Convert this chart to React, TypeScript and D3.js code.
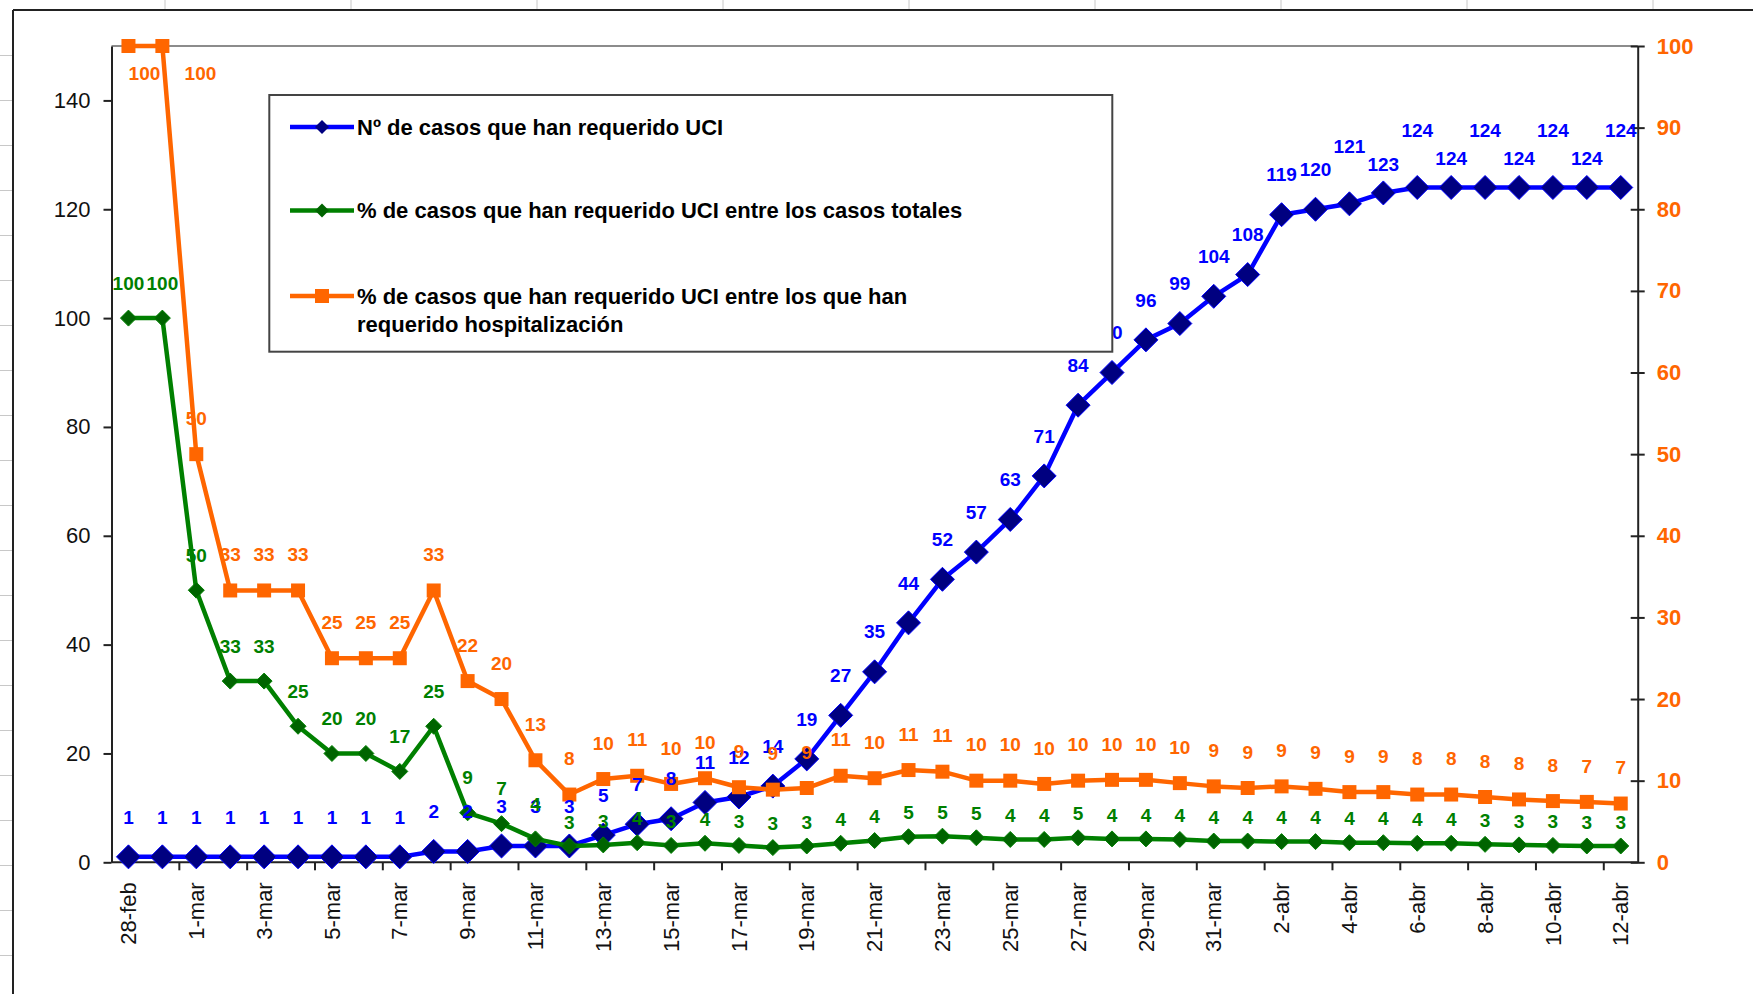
import React, { useRef, useEffect } from "react";
import * as d3 from "d3";

// fechas (categorías del eje X)
const fechas = [
  "28-feb", "29-feb",
  "1-mar", "2-mar", "3-mar", "4-mar", "5-mar", "6-mar", "7-mar", "8-mar", "9-mar", "10-mar",
  "11-mar", "12-mar", "13-mar", "14-mar", "15-mar", "16-mar", "17-mar", "18-mar", "19-mar", "20-mar",
  "21-mar", "22-mar", "23-mar", "24-mar", "25-mar", "26-mar", "27-mar", "28-mar", "29-mar", "30-mar", "31-mar",
  "1-abr", "2-abr", "3-abr", "4-abr", "5-abr", "6-abr", "7-abr", "8-abr", "9-abr", "10-abr", "11-abr", "12-abr",
];

// Nº de casos que han requerido UCI (eje izquierdo)
const casosUci = [
  1, 1, 1, 1, 1, 1, 1, 1, 1, 2, 2, 3, 3, 3, 5, 7, 8, 11, 12, 14, 19, 27, 35, 44, 52, 57, 63, 71, 84, 90,
  96, 99, 104, 108, 119, 120, 121, 123, 124, 124, 124, 124, 124, 124, 124,
];

// % UCI entre casos totales (eje izquierdo)
const pctTotales = [
  100, 100, 50, 33.3, 33.3, 25, 20, 20, 16.7, 25, 9.1, 7.1, 4.3, 3.0, 3.2, 3.6, 3.1, 3.5, 3.1, 2.7, 3.0,
  3.5, 4.0, 4.7, 4.8, 4.5, 4.2, 4.2, 4.5, 4.3, 4.3, 4.2, 3.9, 3.9, 3.8, 3.8, 3.6, 3.6, 3.5, 3.5, 3.3,
  3.2, 3.1, 3.0, 3.0,
];

// % UCI entre hospitalizados (eje derecho)
const pctHospital = [
  100, 100, 50, 33.3, 33.3, 33.3, 25, 25, 25, 33.3, 22.2, 20, 12.5, 8.3, 10.2, 10.6, 9.6, 10.3, 9.2, 8.9,
  9.1, 10.6, 10.3, 11.3, 11.1, 10.0, 10.0, 9.6, 10.0, 10.1, 10.1, 9.7, 9.3, 9.1, 9.3, 9.0, 8.6, 8.6, 8.3,
  8.3, 8.0, 7.7, 7.5, 7.4, 7.2,
];

const ticksIzq = [0, 20, 40, 60, 80, 100, 120, 140];
const ticksDer = [0, 10, 20, 30, 40, 50, 60, 70, 80, 90, 100];

const nombresSeries = [
  ["Nº de casos que han requerido UCI"],
  ["% de casos que han requerido UCI entre los casos totales"],
  ["% de casos que han requerido UCI entre los que han", "requerido hospitalización"],
];

const FONT = "'Liberation Sans', Arial, sans-serif";
const AZUL = "#0000ff";
const VERDE = "#008000";
const NARANJA = "#ff6600";

const App = () => {
  const svgRef = useRef(null);

  useEffect(() => {
    const W = 1753;
    const H = 994;
    const left = 111.5;
    const right = 1637.7;
    const top = 46;
    const bottom = 862.3;

    const svg = d3.select(svgRef.current);
    svg.selectAll("*").remove();

    const x = d3.scalePoint().domain(fechas).range([left, right]).padding(0.5);
    const xBand = d3.scaleBand().domain(fechas).range([left, right]);
    const yLeft = d3.scaleLinear().domain([0, 150]).range([bottom, top]);
    const yRight = d3.scaleLinear().domain([0, 100]).range([bottom, top]);

    svg.append("rect").attr("width", W).attr("height", H).attr("fill", "white");

    // marcas de la hoja de cálculo fuera del gráfico
    for (let yy = 55.5; yy < H; yy += 45) {
      svg.append("line").attr("x1", 0).attr("x2", 12).attr("y1", yy).attr("y2", yy)
        .attr("stroke", "#c8c8c8").attr("stroke-width", 1);
    }
    for (let xx = 165; xx < W; xx += 186) {
      svg.append("line").attr("x1", xx).attr("x2", xx).attr("y1", 0).attr("y2", 9)
        .attr("stroke", "#c8c8c8").attr("stroke-width", 1);
    }

    // marco exterior
    svg.append("line").attr("x1", 13).attr("x2", W).attr("y1", 10).attr("y2", 10)
      .attr("stroke", "#222").attr("stroke-width", 2);
    svg.append("line").attr("x1", 13).attr("x2", 13).attr("y1", 10).attr("y2", H)
      .attr("stroke", "#222").attr("stroke-width", 2);

    // borde superior del área de trazado
    svg.append("line").attr("x1", left).attr("x2", right).attr("y1", top).attr("y2", top)
      .attr("stroke", "#8c8c8c").attr("stroke-width", 2);

    // eje izquierdo
    const gL = svg.append("g").attr("transform", `translate(${left},0)`)
      .call(d3.axisLeft(yLeft).tickValues(ticksIzq).tickSizeInner(8).tickSizeOuter(0).tickPadding(13));
    gL.select(".domain").attr("stroke", "#222").attr("stroke-width", 2);
    gL.selectAll(".tick line").attr("stroke", "#222").attr("stroke-width", 2);
    gL.selectAll(".tick text").attr("font-family", FONT).attr("font-size", 22).attr("fill", "#111");

    // eje derecho
    const gR = svg.append("g").attr("transform", `translate(${right},0)`)
      .call(d3.axisRight(yRight).tickValues(ticksDer).tickSizeInner(7).tickSizeOuter(0).tickPadding(12));
    gR.select(".domain").attr("stroke", "#222").attr("stroke-width", 2);
    gR.selectAll(".tick line").attr("x1", -7).attr("stroke", "#222").attr("stroke-width", 2);
    gR.selectAll(".tick text").attr("font-family", FONT).attr("font-size", 22)
      .attr("font-weight", "bold").attr("fill", NARANJA);

    // eje X
    svg.append("line").attr("x1", left).attr("x2", right).attr("y1", bottom).attr("y2", bottom)
      .attr("stroke", "#222").attr("stroke-width", 2);
    fechas.forEach((f, i) => {
      if (i > 0 && i % 2 === 0) {
        const bx = xBand(f);
        svg.append("line").attr("x1", bx).attr("x2", bx).attr("y1", bottom).attr("y2", bottom + 8)
          .attr("stroke", "#222").attr("stroke-width", 2);
      }
      if (i % 2 === 0) {
        svg.append("text")
          .attr("transform", `translate(${x(f)},${bottom + 20}) rotate(-90)`)
          .attr("text-anchor", "end")
          .attr("dy", "0.35em")
          .attr("font-family", FONT)
          .attr("font-size", 22)
          .attr("fill", "#111")
          .text(f);
      }
    });

    const diamond = (r) => `M0,${-r}L${r},0L0,${r}L${-r},0Z`;

    const series = [
      { values: casosUci, y: yLeft, color: AZUL, mark: "#000080", shape: diamond(12), width: 4.5 },
      { values: pctTotales, y: yLeft, color: VERDE, mark: "#006400", shape: diamond(8), width: 4.5 },
      { values: pctHospital, y: yRight, color: NARANJA, mark: NARANJA, shape: "M-7,-7H7V7H-7Z", width: 4.5 },
    ];

    series.forEach((s) => {
      const line = d3.line().x((d, i) => x(fechas[i])).y((d) => s.y(d));
      svg.append("path").datum(s.values).attr("d", line).attr("fill", "none")
        .attr("stroke", s.color).attr("stroke-width", s.width).attr("stroke-linejoin", "round");
      s.values.forEach((v, i) => {
        svg.append("path").attr("d", s.shape)
          .attr("transform", `translate(${x(fechas[i])},${s.y(v)})`)
          .attr("fill", s.mark)
          .attr("stroke", s.color === NARANJA ? "none" : s.color)
          .attr("stroke-width", 1);
      });
    });

    // etiquetas de datos
    const etiqueta = (tx, ty, txt, color) =>
      svg.append("text").attr("x", tx).attr("y", ty).attr("dy", "0.35em")
        .attr("text-anchor", "middle").attr("font-family", FONT).attr("font-size", 19)
        .attr("font-weight", "bold").attr("fill", color).text(txt);

    // en la meseta final las etiquetas azules se alternan arriba / abajo
    casosUci.forEach((v, i) => {
      const off = i >= 36 ? (i % 2 === 0 ? 57 : 29) : 40;
      etiqueta(x(fechas[i]), yLeft(v) - off, Math.round(v), AZUL);
    });
    pctTotales.forEach((v, i) => etiqueta(x(fechas[i]), yLeft(v) - (i <= 12 ? 35 : 24), Math.round(v), VERDE));
    let prevClamp = -Infinity;
    pctHospital.forEach((v, i) => {
      const px = x(fechas[i]);
      const py = yRight(v);
      if (py - 36 < top + 10) {
        const cx = Math.max(px + 16, prevClamp + 56);
        prevClamp = cx;
        etiqueta(cx, py + 27, Math.round(v), NARANJA);
      } else {
        etiqueta(px, py - 36, Math.round(v), NARANJA);
      }
    });

    // leyenda
    const lg = svg.append("g");
    lg.append("rect").attr("x", 269.3).attr("y", 95).attr("width", 843).attr("height", 256.7)
      .attr("fill", "white").attr("stroke", "#444").attr("stroke-width", 2);
    const filas = [127, 210.5, 296];
    const legMarks = [
      { color: AZUL, mark: "#000080", shape: diamond(7) },
      { color: VERDE, mark: "#006400", shape: diamond(7) },
      { color: NARANJA, mark: NARANJA, shape: "M-7,-7H7V7H-7Z" },
    ];
    nombresSeries.forEach((lines, k) => {
      const yy = filas[k];
      lg.append("line").attr("x1", 290).attr("x2", 354).attr("y1", yy).attr("y2", yy)
        .attr("stroke", legMarks[k].color).attr("stroke-width", 4.5);
      lg.append("path").attr("d", legMarks[k].shape).attr("transform", `translate(322,${yy})`)
        .attr("fill", legMarks[k].mark);
      lines.forEach((t, j) => {
        lg.append("text").attr("x", 357).attr("y", yy + j * 28).attr("dy", "0.35em")
          .attr("font-family", FONT).attr("font-size", 22).attr("font-weight", "bold")
          .attr("fill", "#000").text(t);
      });
    });
  }, []);

  return (
    <svg
      ref={svgRef}
      width={1753}
      height={994}
      style={{ position: "absolute", left: 0, top: 0, display: "block" }}
    />
  );
};

export default App;
